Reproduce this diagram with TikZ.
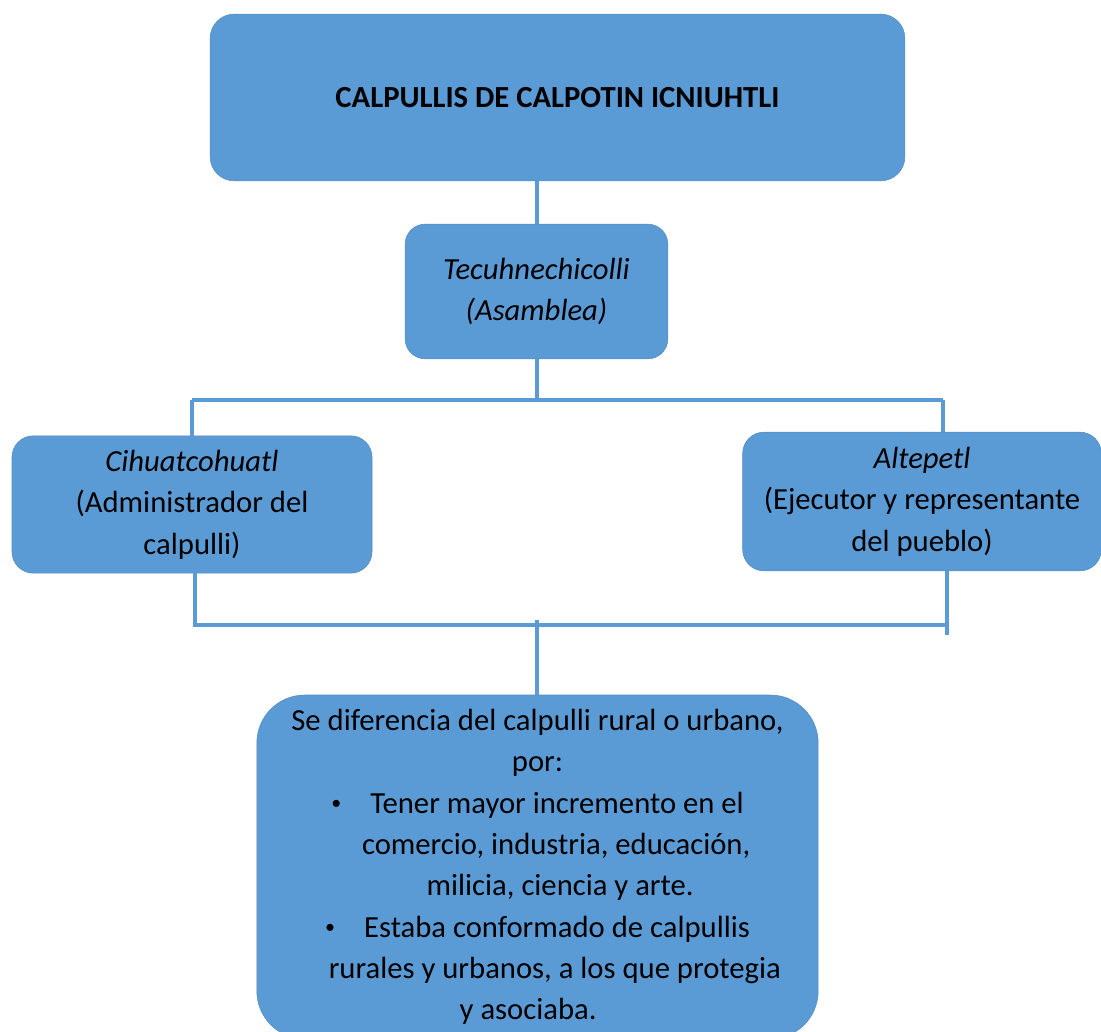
\documentclass[tikz,border=0pt]{standalone}
\usepackage{fontspec}
\setmainfont{Carlito}
\definecolor{boxblue}{HTML}{5B9BD5}
\definecolor{lineblue}{HTML}{5B9BD5}
\newcommand{\smbul}{\raisebox{0.12em}{\fontsize{15}{15}\selectfont\textbullet}}
\begin{document}
\begin{tikzpicture}[x=0.75pt,y=-0.75pt,
  box/.style={fill=boxblue,draw=boxblue!90!black,line width=0.4pt,rounded corners=18pt,align=center,
    font=\fontsize{23}{31}\selectfont,text=black,inner sep=0pt},
  conn/.style={draw=lineblue,line width=2.3pt}]
\path[fill=white,use as bounding box] (0,0) rectangle (1101,1032);

\node[box,minimum width=521pt,minimum height=125pt] (top) at (557.5,97.5)
  {\bfseries CALPULLIS DE CALPOTIN ICNIUHTLI};
\node[box,minimum width=197pt,minimum height=101pt,rounded corners=15pt] (tec) at (536.5,291.5)
  {\itshape Tecuhnechicolli\\\itshape (Asamblea)};
\node[box,minimum width=270pt,minimum height=103pt,rounded corners=16pt] (left) at (192,504.5)
  {\itshape Cihuatcohuatl\\(Administrador del\\calpulli)};
\node[box,minimum width=269pt,minimum height=104pt,rounded corners=16pt] (right) at (922,501.5)
  {\itshape Altepetl\\(Ejecutor y representante\\del pueblo)};
\node[box,minimum width=421pt,minimum height=258pt,rounded corners=36pt] (bot) at (537.5,867)
  {Se diferencia del calpulli rural o urbano,\\
   por:\\
   \smbul\hspace{0.95em}Tener mayor incremento en el\\
   \hspace*{28pt}comercio, industria, educación,\\
   \hspace*{34pt}milicia, ciencia y arte.\\
   \smbul\hspace{0.95em}Estaba conformado de calpullis\\
   \hspace*{26pt}rurales y urbanos, a los que protegia\\
   \hspace*{-14pt}y asociaba.};

\coordinate (j0) at (537,181);
\coordinate (j1) at (537,400);
\coordinate (lt) at (192,400);
\coordinate (rt) at (943,400);
\coordinate (lb) at (195,625);
\coordinate (rb) at (947,625);
\coordinate (rbe) at (947,635);
\coordinate (jb) at (537,620);

\draw[conn] (j0 |- top.south) -- (j0 |- tec.north);
\draw[conn] (j1 |- tec.south) -- (j1);
\draw[conn] (lt) -- (rt);
\draw[conn] (lt) -- (lt |- left.north);
\draw[conn] (rt) -- (rt |- right.north);
\draw[conn] (lb |- left.south) -- (lb) -- (rb);
\draw[conn] (rb |- right.south) -- (rbe);
\draw[conn] (jb) -- (jb |- bot.north);
\end{tikzpicture}
\end{document}
